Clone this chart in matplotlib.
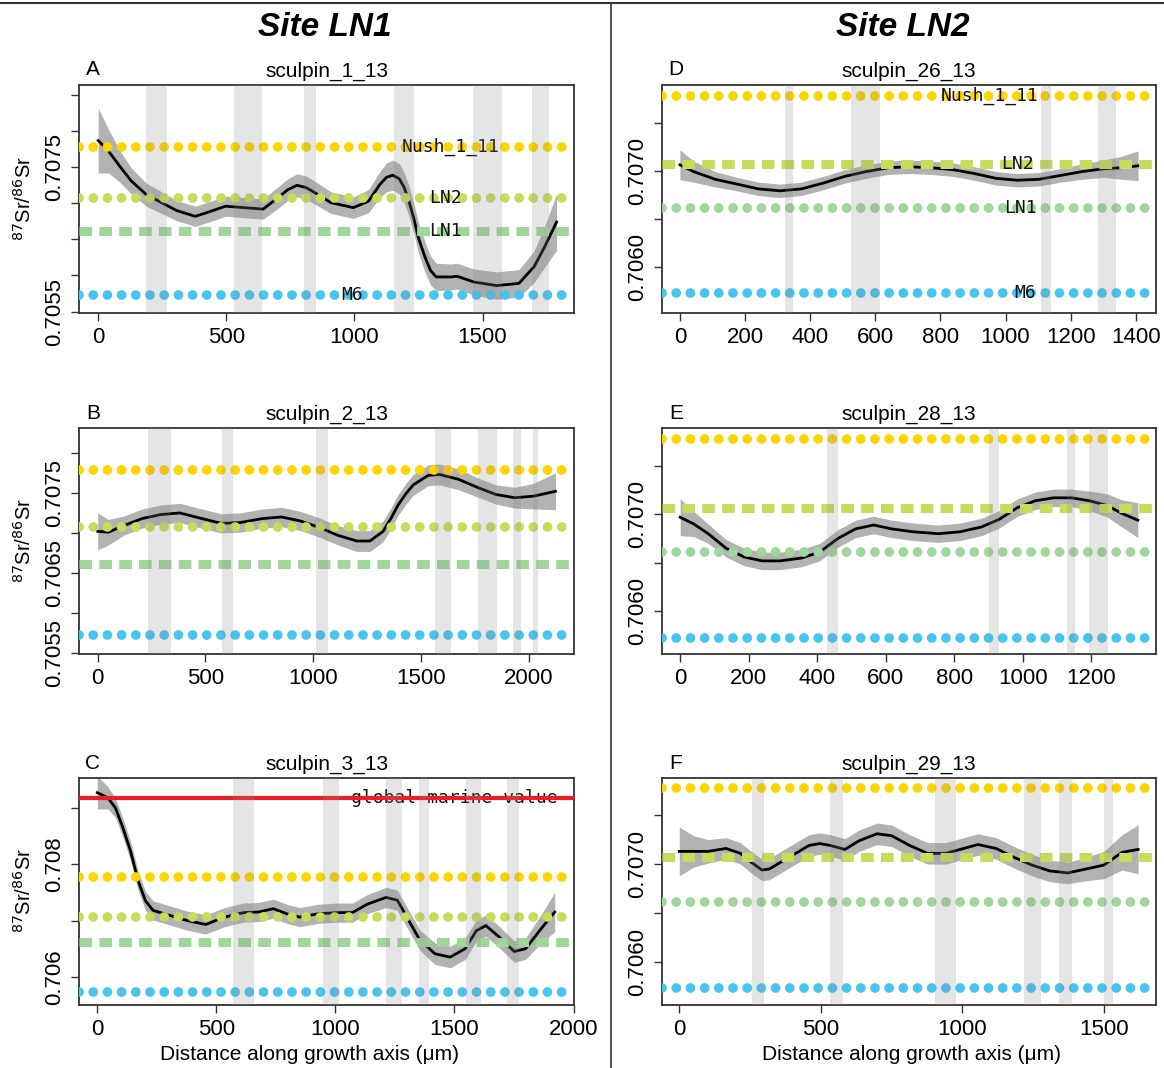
import numpy as np
import matplotlib.pyplot as plt

plt.rcParams['font.family'] = ['Liberation Sans', 'DejaVu Sans']

# reference 87Sr/86Sr values
ref_names = ["Nush_1_11", "LN2", "LN1", "M6"]
ref_values = [0.70778, 0.70707, 0.70661, 0.70573]
ref_colors = ["#FFD400", "#C8DC5C", "#A0D69A", "#48C4F0"]
marine_value = 0.70918

# A: sculpin_1_13 (site LN1)
a_x = [0, 41, 85, 129, 188, 247, 306, 379, 423, 497, 570, 644, 702, 740, 776, 810, 835,
       908, 996, 1055, 1099, 1125, 1150, 1175, 1194, 1212, 1231, 1250, 1275, 1297, 1319,
       1378, 1400, 1466, 1554, 1642, 1701, 1740, 1789]
a_y = [0.70787, 0.70772, 0.70751, 0.70731, 0.70712, 0.70701, 0.70690, 0.70682, 0.70687,
       0.70696, 0.70694, 0.70692, 0.70708, 0.70719, 0.70725, 0.70722, 0.70717, 0.70701,
       0.70694, 0.70703, 0.70726, 0.70736, 0.70739, 0.70734, 0.70722, 0.70704, 0.70680,
       0.70652, 0.70626, 0.70607, 0.70598, 0.70598, 0.70599, 0.70591, 0.70586, 0.70589,
       0.70612, 0.70638, 0.70674]
a_ci = [0.00045, 0.00030, 0.00022, 0.00018, 0.00016, 0.00015, 0.00014, 0.00014, 0.00014,
        0.00014, 0.00014, 0.00014, 0.00015, 0.00015, 0.00016, 0.00016, 0.00016, 0.00015,
        0.00015, 0.00016, 0.00018, 0.00020, 0.00021, 0.00021, 0.00021, 0.00021, 0.00021,
        0.00021, 0.00021, 0.00020, 0.00019, 0.00018, 0.00018, 0.00018, 0.00019, 0.00019,
        0.00022, 0.00028, 0.00039]
a_bands = [(185, 269), (529, 641), (802, 849), (1153, 1231), (1462, 1577), (1694, 1760)]

# B: sculpin_2_13 (site LN1)
b_x = [0, 49, 119, 206, 293, 381, 468, 573, 660, 765, 853, 940, 1027, 1115, 1202, 1263,
       1324, 1360, 1394, 1430, 1464, 1534, 1586, 1674, 1761, 1848, 1936, 2023, 2124]
b_y = [0.70702, 0.70701, 0.70709, 0.70718, 0.70723, 0.70725, 0.70719, 0.70712, 0.70713,
       0.70718, 0.70720, 0.70715, 0.70707, 0.70697, 0.70690, 0.70690, 0.70702, 0.70718,
       0.70735, 0.70749, 0.70760, 0.70772, 0.70773, 0.70767, 0.70757, 0.70748, 0.70744,
       0.70746, 0.70752]
b_ci = [0.00023, 0.00016, 0.00012, 0.00012, 0.00012, 0.00012, 0.00012, 0.00012, 0.00012,
        0.00012, 0.00012, 0.00012, 0.00012, 0.00012, 0.00013, 0.00013, 0.00013, 0.00013,
        0.00013, 0.00013, 0.00013, 0.00013, 0.00013, 0.00013, 0.00012, 0.00012, 0.00013,
        0.00016, 0.00023]
b_bands = [(232, 341), (578, 629), (1013, 1067), (1565, 1639), (1766, 1852),
           (1927, 1962), (2020, 2044)]

# C: sculpin_3_13 (site LN1)
c_x = [0, 44, 76, 107, 139, 171, 202, 234, 281, 376, 455, 534, 613, 676, 739, 802, 850,
       929, 1008, 1071, 1134, 1213, 1260, 1308, 1355, 1418, 1482, 1545, 1592, 1632, 1687,
       1751, 1799, 1863, 1921]
c_y = [0.70927, 0.70918, 0.70900, 0.70865, 0.70824, 0.70771, 0.70735, 0.70718, 0.70712,
       0.70700, 0.70693, 0.70706, 0.70714, 0.70715, 0.70721, 0.70711, 0.70706, 0.70712,
       0.70714, 0.70714, 0.70729, 0.70741, 0.70736, 0.70700, 0.70665, 0.70641, 0.70635,
       0.70650, 0.70682, 0.70691, 0.70671, 0.70645, 0.70650, 0.70685, 0.70715]
c_ci = [0.00029, 0.00020, 0.00017, 0.00017, 0.00017, 0.00017, 0.00017, 0.00017, 0.00017,
        0.00017, 0.00017, 0.00017, 0.00017, 0.00017, 0.00017, 0.00017, 0.00017, 0.00017,
        0.00017, 0.00017, 0.00017, 0.00018, 0.00018, 0.00018, 0.00018, 0.00019, 0.00019,
        0.00019, 0.00019, 0.00019, 0.00019, 0.00019, 0.00019, 0.00025, 0.00035]
c_bands = [(569, 657), (949, 1016), (1213, 1280), (1352, 1395), (1548, 1613), (1719, 1769)]

# D: sculpin_26_13 (site LN2)
d_x = [0, 42, 108, 175, 241, 307, 373, 440, 506, 572, 639, 705, 771, 838, 904, 970, 1036,
       1103, 1169, 1235, 1302, 1357, 1407]
d_y = [0.70706, 0.70699, 0.70691, 0.70686, 0.70681, 0.70679, 0.70681, 0.70687, 0.70694,
       0.70699, 0.70703, 0.70704, 0.70703, 0.70701, 0.70697, 0.70692, 0.70690, 0.70691,
       0.70695, 0.70699, 0.70702, 0.70703, 0.70705]
d_ci = [0.000155, 0.00011, 0.00008, 0.00007, 0.00007, 0.00007, 0.00007, 0.00007, 0.00007,
        0.00007, 0.00007, 0.00007, 0.00007, 0.00007, 0.00007, 0.00007, 0.00007, 0.00007,
        0.00007, 0.00008, 0.00009, 0.00012, 0.000155]
d_bands = [(324, 348), (526, 613), (1110, 1141), (1285, 1338)]

# E: sculpin_28_13 (site LN2)
e_x = [0, 40, 82, 134, 187, 239, 292, 355, 407, 460, 512, 565, 617, 680, 754, 817, 880,
       932, 985, 1037, 1090, 1142, 1195, 1247, 1289, 1336]
e_y = [0.70697, 0.70690, 0.70680, 0.70665, 0.70656, 0.70652, 0.70652, 0.70655, 0.70661,
       0.70675, 0.70685, 0.70689, 0.70685, 0.70682, 0.70680, 0.70682, 0.70687, 0.70695,
       0.70707, 0.70714, 0.70717, 0.70717, 0.70714, 0.70709, 0.70701, 0.70694]
e_ci = [0.00019, 0.00013, 0.00010, 0.00009, 0.00009, 0.00009, 0.00009, 0.00009, 0.00009,
        0.00009, 0.00009, 0.00009, 0.00009, 0.00009, 0.00009, 0.00009, 0.00009, 0.00009,
        0.00009, 0.00009, 0.00009, 0.00009, 0.00010, 0.00012, 0.00014, 0.00018]
e_bands = [(430, 462), (901, 930), (1129, 1153), (1193, 1249)]

# F: sculpin_29_13 (site LN2)
f_x = [0, 51, 102, 165, 216, 254, 292, 318, 394, 458, 496, 534, 585, 636, 699, 750, 814,
       877, 941, 992, 1055, 1119, 1182, 1246, 1309, 1373, 1437, 1500, 1564, 1621]
f_y = [0.70713, 0.70713, 0.70713, 0.70716, 0.70711, 0.70702, 0.70694, 0.70695, 0.70708,
       0.70719, 0.70721, 0.70719, 0.70715, 0.70724, 0.70731, 0.70729, 0.70719, 0.70711,
       0.70711, 0.70715, 0.70720, 0.70716, 0.70707, 0.70699, 0.70693, 0.70691, 0.70695,
       0.70699, 0.70712, 0.70715]
f_ci = [0.00025, 0.00016, 0.00012, 0.00011, 0.00011, 0.00011, 0.00011, 0.00011, 0.00011,
        0.00011, 0.00011, 0.00011, 0.00011, 0.00011, 0.00011, 0.00011, 0.00011, 0.00011,
        0.00011, 0.00011, 0.00011, 0.00011, 0.00011, 0.00011, 0.00011, 0.00011, 0.00012,
        0.00014, 0.00018, 0.00025]
f_bands = [(258, 301), (534, 578), (903, 976), (1217, 1278), (1341, 1388), (1500, 1532)]


W, H = 1164, 1068
fig = plt.figure(figsize=(W / 100, H / 100), dpi=100)

DOTTED = dict(lw=7, linestyle=(0, (0.01, 1.45)), dash_capstyle="round")
DASHED = dict(lw=6.5, linestyle=(0, (1.4, 0.8)), dash_capstyle="butt")


def box(left, top, right, bottom):
    return [left / W, 1 - bottom / H, (right - left) / W, (bottom - top) / H]


def draw_panel(ax, x, y, ci, bands, site, letter, title, xlim, ylim, xticks,
               yticks, ylabels, ref_text=None, marine=False):
    x = np.array(x)
    y = np.array(y)
    ci = np.array(ci)

    ax.fill_between(x, y - ci, y + ci, color="#808080", alpha=0.6, lw=0, zorder=1)
    ax.plot(x, y, color="black", lw=2, zorder=2, solid_joinstyle="round")

    for name, val, col in zip(ref_names, ref_values, ref_colors):
        style = DASHED if name == site else DOTTED
        ax.axhline(val, color=col, zorder=3, **style)

    if ref_text:
        for name, val, tx in zip(ref_names, ref_values, ref_text):
            ax.text(tx, val, name, family="DejaVu Sans Mono", fontsize=13,
                    ha="center", va="center", color="#111111", zorder=4)

    if marine:
        ax.text(1500, marine_value, "global marine value", family="DejaVu Sans Mono",
                fontsize=13, ha="center", va="center", color="#111111", zorder=4)
        ax.axhline(marine_value, color="#EE1C25", lw=3, zorder=4.5)

    for start, end in bands:
        ax.axvspan(start, end, color="#8c8c8c", alpha=0.22, lw=0, zorder=5)

    ax.set_xlim(xlim)
    ax.set_ylim(ylim)
    ax.set_xticks(xticks)
    ax.set_yticks(yticks)
    ax.set_yticklabels(ylabels)
    ax.tick_params(labelsize=16, length=6, width=1, color="#333333", pad=4)
    ax.tick_params(axis="y", labelrotation=90)
    for lab in ax.get_yticklabels():
        lab.set_va("center")
    for sp in ax.spines.values():
        sp.set_color("#333333")
        sp.set_linewidth(1.3)

    ax.set_title(title, fontsize=15, pad=6)
    ax.text(0.028, 1.066, letter, transform=ax.transAxes, fontsize=15,
            ha="center", va="center")


ax_a = fig.add_axes(box(79, 85, 574, 313))
draw_panel(ax_a, a_x, a_y, a_ci, a_bands, "LN1", "A", "sculpin_1_13",
           (-75, 1857), (0.70548, 0.70864), [0, 500, 1000, 1500],
           [0.7055, 0.7060, 0.7065, 0.7070, 0.7075, 0.7080, 0.7085],
           ["0.7055", "", "", "", "0.7075", "", ""],
           ref_text=[1375, 1356, 1356, 992])

ax_b = fig.add_axes(box(79, 428, 574, 654))
draw_panel(ax_b, b_x, b_y, b_ci, b_bands, "LN1", "B", "sculpin_2_13",
           (-87, 2210), (0.70549, 0.70831), [0, 500, 1000, 1500, 2000],
           [0.7055, 0.7060, 0.7065, 0.7070, 0.7075, 0.7080],
           ["0.7055", "", "0.7065", "", "0.7075", ""])

ax_c = fig.add_axes(box(79, 778, 574, 1005))
draw_panel(ax_c, c_x, c_y, c_ci, c_bands, "LN1", "C", "sculpin_3_13",
           (-77, 2002), (0.70550, 0.70953), [0, 500, 1000, 1500, 2000],
           [0.706, 0.707, 0.708, 0.709],
           ["0.706", "", "0.708", ""], marine=True)

ax_d = fig.add_axes(box(662, 85, 1156, 313))
draw_panel(ax_d, d_x, d_y, d_ci, d_bands, "LN2", "D", "sculpin_26_13",
           (-55, 1462), (0.70552, 0.70789), [0, 200, 400, 600, 800, 1000, 1200, 1400],
           [0.7060, 0.7065, 0.7070, 0.7075],
           ["0.7060", "", "0.7070", ""],
           ref_text=[952, 1035, 1047, 1060])

ax_e = fig.add_axes(box(662, 428, 1156, 654))
draw_panel(ax_e, e_x, e_y, e_ci, e_bands, "LN2", "E", "sculpin_28_13",
           (-53, 1389), (0.70556, 0.70789), [0, 200, 400, 600, 800, 1000, 1200],
           [0.7060, 0.7065, 0.7070, 0.7075],
           ["0.7060", "", "0.7070", ""])

ax_f = fig.add_axes(box(662, 778, 1156, 1005))
draw_panel(ax_f, f_x, f_y, f_ci, f_bands, "LN2", "F", "sculpin_29_13",
           (-61, 1684), (0.70556, 0.70788), [0, 500, 1000, 1500],
           [0.7060, 0.7065, 0.7070, 0.7075],
           ["0.7060", "", "0.7070", ""])

ylab = r"$^{87}$Sr/$^{86}$Sr"
for yc in [199, 541, 891]:
    fig.text(24 / W, 1 - yc / H, ylab, rotation=90, fontsize=14.5, ha="center", va="center")

xlab = "Distance along growth axis (\u03bcm)"
fig.text(309 / W, 1 - 1055 / H, xlab, fontsize=15, ha="center", va="center")
fig.text(911 / W, 1 - 1055 / H, xlab, fontsize=15, ha="center", va="center")

fig.text(325 / W, 1 - 27 / H, "Site LN1", fontsize=24, fontweight="bold",
         fontstyle="italic", ha="center", va="center")
fig.text(903 / W, 1 - 27 / H, "Site LN2", fontsize=24, fontweight="bold",
         fontstyle="italic", ha="center", va="center")

# frame lines separating the two sites
fig.add_artist(plt.Line2D([0, 1], [1 - 3 / H, 1 - 3 / H], transform=fig.transFigure,
                          color="#333333", lw=1.5))
fig.add_artist(plt.Line2D([611 / W, 611 / W], [0, 1 - 3 / H], transform=fig.transFigure,
                          color="#333333", lw=1.2))

fig.savefig("out.png", dpi=100)
